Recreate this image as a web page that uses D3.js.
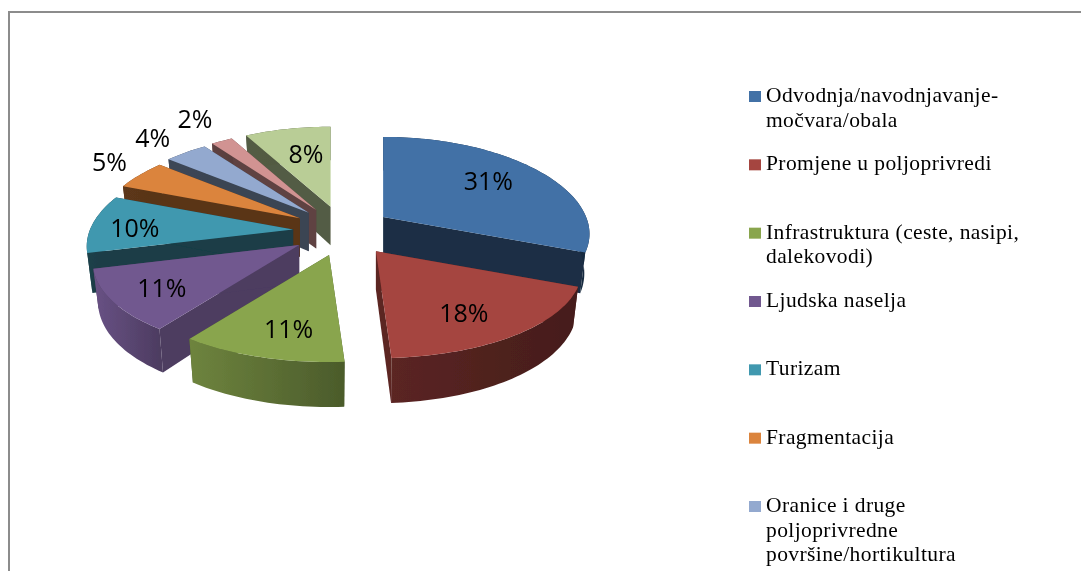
<!DOCTYPE html>
<html>
<head>
<meta charset="utf-8">
<script src="https://cdnjs.cloudflare.com/ajax/libs/d3/7.8.5/d3.min.js"></script>
<style>
  html, body { margin: 0; padding: 0; background: #fff; overflow: hidden; }
  svg { display: block; }
</style>
</head>
<body>
<div id="chart"></div>
<script>
// chart data
var categories = [
    "Odvodnja/navodnjavanje-\nmočvara/obala",
    "Promjene u poljoprivredi",
    "Infrastruktura (ceste, nasipi,\ndalekovodi)",
    "Ljudska naselja",
    "Turizam",
    "Fragmentacija",
    "Oranice i druge\npoljoprivredne\npovršine/hortikultura"
];
var values = [31, 18, 11, 11, 10, 5, 4, 2, 8];
var colors = ["#4271a6", "#a5443f", "#89a54e", "#71588f", "#4198af", "#db843d", "#93a9cf", "#d19392", "#b9cd96"];

// where each label sits, as a share of the slice's rim offset
var labelX = [0.69, 0.63, 0.59, 0.735, 0.79, 1.19, 1.27, 1.285, 0.57];
var labelY = [0.76, 0.74, 0.725, 0.77, 0.25, 1.29, 1.24, 1.317, 0.68];
// sideways pull of each slice, as a share of the common explode distance
var pullX = [0.97, 1.12, 1, 1.06, 1, 1, 1, 1, 1];
// side wall shading, as a share of the slice colour
var wallLeft = [0.42, 0.55, 0.8, 0.93, 0.42, 0.42, 0.42, 0.45, 0.45];
var wallRight = [0.38, 0.42, 0.55, 0.68, 0.38, 0.4, 0.4, 0.42, 0.42];
var edgeShade = [0.41, 0.55, 0.55, 0.68, 0.4, 0.41, 0.4, 0.45, 0.45];

var width = 1081, height = 571;
var center = { x: 343, y: 231 },
    explode = { x: 50, y: 25 },
    radius = { x: 203, y: 91.6 },
    perspX = 0.18,
    perspY = 0.144,
    depth = 38.5,
    taper = 0.975; // the bottom of the pie narrows a little

var svg = d3.select("#chart").append("svg")
    .attr("width", width)
    .attr("height", height);

var defs = svg.append("defs");
defs.append("filter").attr("id", "soft")
    .append("feGaussianBlur").attr("stdDeviation", 0.45);

// outer frame runs off the page on the right and at the bottom
svg.append("rect")
    .attr("x", 9)
    .attr("y", 12)
    .attr("width", width + 50)
    .attr("height", height + 50)
    .attr("fill", "#fff")
    .attr("stroke", "#8c8c8c")
    .attr("stroke-width", 2);

function shade(c, k) {
    var r = d3.rgb(c);
    return d3.rgb(r.r * k, r.g * k, r.b * k).formatHex();
}

// slice local point -> screen offset, with a bit of perspective
function project(a, r) {
    var wx = 1 + perspX * r * Math.cos(a),
        wy = 1 + perspY * r * Math.cos(a);
    return {
        x: radius.x * r * Math.sin(a) / wx,
        y: -radius.y * r * Math.cos(a) / wy,
        h: depth / wy
    };
}

var pie = d3.pie().sort(null).value(function (d) { return d; });
var slices = pie(values).map(function (d, i) {
    var mid = (d.startAngle + d.endAngle) / 2;
    return {
        i: i,
        start: d.startAngle,
        end: d.endAngle,
        mid: mid,
        value: d.value,
        ox: center.x + explode.x * pullX[i] * Math.sin(mid),
        oy: center.y - explode.y * Math.cos(mid)
    };
});

var line = d3.line().x(function (d) { return d[0]; }).y(function (d) { return d[1]; });

function rim(s) {
    var n = Math.max(4, Math.ceil((s.end - s.start) * 40));
    return d3.range(n + 1).map(function (k) {
        return project(s.start + (s.end - s.start) * k / n, 1);
    });
}

var pieGroup = svg.append("g").attr("filter", "url(#soft)");

// back slices first, so nearer ones paint over them
var order = slices.slice().sort(function (a, b) {
    return -Math.cos(a.mid) - (-Math.cos(b.mid));
});

order.forEach(function (s) {
    var c = colors[s.i];
    var g = pieGroup.append("g").attr("transform", "translate(" + s.ox + "," + s.oy + ")");
    var pts = rim(s);
    var apex = project(0, 0);

    // the two cut faces
    [s.start, s.end].forEach(function (a) {
        var p = project(a, 1);
        g.append("path")
            .attr("d", line([[0, 0], [p.x, p.y], [p.x * taper, p.y + p.h], [0, apex.h]]) + "Z")
            .attr("fill", shade(c, edgeShade[s.i]));
    });

    // curved outer wall
    var gid = "wall" + s.i;
    var grad = defs.append("linearGradient").attr("id", gid)
        .attr("gradientUnits", "userSpaceOnUse")
        .attr("x1", d3.min(pts, function (p) { return p.x; }))
        .attr("x2", d3.max(pts, function (p) { return p.x; }))
        .attr("y1", 0).attr("y2", 0);
    grad.append("stop").attr("offset", 0).attr("stop-color", shade(c, wallLeft[s.i]));
    grad.append("stop").attr("offset", 1).attr("stop-color", shade(c, wallRight[s.i]));
    var wall = pts.map(function (p) { return [p.x, p.y]; })
        .concat(pts.slice().reverse().map(function (p) { return [p.x * taper, p.y + p.h]; }));
    g.append("path")
        .attr("d", line(wall) + "Z")
        .attr("fill", "url(#" + gid + ")");

    // top face
    var top = [[0, 0]].concat(pts.map(function (p) { return [p.x, p.y]; }));
    g.append("path")
        .attr("d", line(top) + "Z")
        .attr("fill", c);
});

// percent labels
svg.append("g").attr("filter", "url(#soft)")
    .selectAll("text")
    .data(slices)
    .enter()
    .append("text")
    .attr("x", function (d) { return d.ox + project(d.mid, 1).x * labelX[d.i]; })
    .attr("y", function (d) { return d.oy + project(d.mid, 1).y * labelY[d.i]; })
    .attr("dy", "0.36em")
    .attr("text-anchor", "middle")
    .attr("font-family", "'Open Sans', sans-serif")
    .attr("font-size", "25px")
    .attr("fill", "#000")
    .text(function (d) { return d.value + "%"; });

// legend
var legendY = d3.scalePoint()
    .domain(categories)
    .range([96.5, 506.5]);

var legend = svg.append("g").attr("filter", "url(#soft)")
    .selectAll("g")
    .data(categories)
    .enter()
    .append("g")
    .attr("transform", function (d) { return "translate(749," + legendY(d) + ")"; });

legend.append("rect")
    .attr("x", 0)
    .attr("y", -5.5)
    .attr("width", 12)
    .attr("height", 11)
    .attr("fill", function (d, i) { return colors[i]; });

legend.append("text")
    .attr("font-family", "'Liberation Serif', serif")
    .attr("font-size", "21.5px")
    .attr("letter-spacing", "0.4px")
    .attr("fill", "#000")
    .selectAll("tspan")
    .data(function (d) { return d.split("\n"); })
    .enter()
    .append("tspan")
    .attr("x", 17)
    .attr("y", function (d, i) { return 5.5 + i * 24.7; })
    .text(function (d) { return d; });
</script>
</body>
</html>
